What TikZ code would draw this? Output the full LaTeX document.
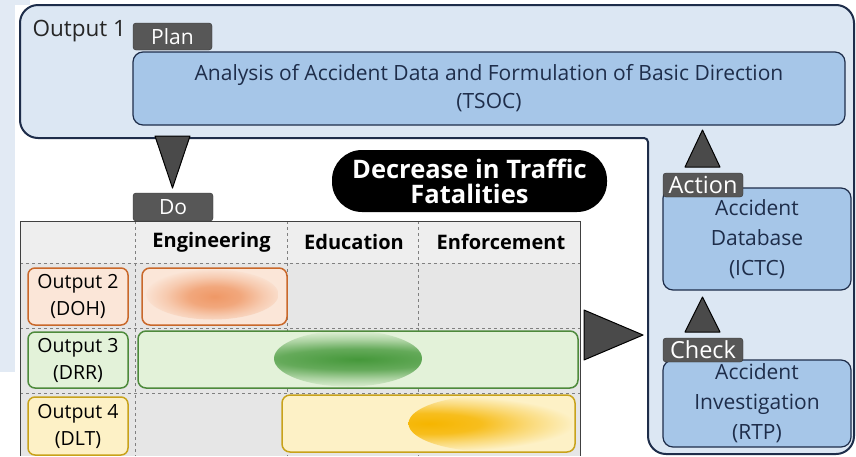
\documentclass[tikz,border=0pt]{standalone}
\usepackage{fontspec}
\setmainfont{Open Sans}
\usetikzlibrary{calc}
\definecolor{navy}{HTML}{1E2D4A}
\definecolor{paleblue}{HTML}{DCE7F3}
\definecolor{stripblue}{HTML}{E2EAF4}
\definecolor{boxblue}{HTML}{A6C6E8}
\definecolor{tabgray}{HTML}{575757}
\definecolor{trigray}{HTML}{4A4A4A}
\definecolor{cellgray}{HTML}{E6E6E6}
\definecolor{headgray}{HTML}{EEEEEE}
\definecolor{orangeln}{HTML}{C9682A}
\definecolor{orangebg}{HTML}{FBE6D8}
\definecolor{orangedk}{HTML}{EF9866}
\definecolor{greenln}{HTML}{4E8A3C}
\definecolor{greenbg}{HTML}{E3F2D9}
\definecolor{greendk}{HTML}{45983A}
\definecolor{goldln}{HTML}{C8A21A}
\definecolor{goldbg}{HTML}{FDF1C6}
\definecolor{golddk}{HTML}{F6B500}
\pgfdeclareradialshading{orangeblob}{\pgfpoint{0bp}{0bp}}{color(0bp)=(orangedk); color(9bp)=(orangedk!80!orangebg); color(17bp)=(orangedk!35!orangebg); color(25bp)=(orangebg); color(50bp)=(orangebg)}
\pgfdeclareradialshading{greenblob}{\pgfpoint{0bp}{0bp}}{color(0bp)=(greendk); color(9bp)=(greendk!80!greenbg); color(17bp)=(greendk!35!greenbg); color(25bp)=(greenbg); color(50bp)=(greenbg)}
\pgfdeclareradialshading{goldblob}{\pgfpoint{0bp}{0bp}}{color(0bp)=(golddk); color(9bp)=(golddk!85!goldbg); color(17bp)=(golddk!40!goldbg); color(25bp)=(goldbg); color(50bp)=(goldbg)}
\tikzset{
  bluebox/.style={draw=navy, line width=1.2pt, fill=boxblue, rounded corners=10pt, align=center, text=navy},
  tab/.style={draw=black!80, fill=tabgray, rounded corners=3pt, text=white, inner sep=0pt},
  tri/.style={draw=black, fill=trigray, line width=1pt, line join=round},
  outlabel/.style={draw=#1ln, fill=#1bg, line width=1.5pt, rounded corners=7pt, align=center, minimum width=100pt, inner sep=0pt, font=\fontsize{19.5}{27}\selectfont},
  bar/.style={draw=#1ln, fill=#1bg, line width=1.5pt, rounded corners=8pt, inner sep=0pt},
  colhead/.style={font=\fontsize{20}{24}\bfseries\selectfont}
}
\begin{document}
\begin{tikzpicture}[x=1pt,y=-1pt]
\useasboundingbox (0,0) rectangle (856,456);
\fill[white] (0,0) rectangle (856,456);
\fill[stripblue] (0,0) rectangle (15,372);
\fill[stripblue] (0,0) rectangle (30,5);
% Output 1 frame
\draw[navy, line width=2pt, fill=paleblue, rounded corners=18pt]
  (20,5) -- (854,5) -- (854,454) -- (648,454) [rounded corners=4pt] -- (648,138) [rounded corners=18pt] -- (20,138) -- cycle;
\node[font=\fontsize{22.5}{25}\selectfont, text=black!85, anchor=west] (out1) at (29,31) {Output 1};
\node[bluebox, minimum width=712pt, minimum height=73pt, font=\fontsize{21}{28}\selectfont] (tsoc) at (489,88.5)
  {Analysis of Accident Data and Formulation of Basic Direction\\(TSOC)};
\node[tab, minimum width=79pt, minimum height=27pt, font=\fontsize{21}{22}\selectfont] (plan) at (172.5,36.5) {Plan};

% table
\fill[cellgray] (20,221) rectangle (580,456);
\fill[headgray] (20,221) rectangle (580,263);
\foreach \x in {135,287,418} \draw[gray, dashed] (\x,221) -- (\x,456);
\foreach \y in {263,328,393} \draw[gray, dashed] (20,\y) -- (580,\y);
\draw[black!75, line width=1pt] (20,456) -- (20,221) -- (580,221) -- (580,456);
\node[colhead] (eng) at (211.5,242) {Engineering};
\node[colhead] (edu) at (354,242) {Education};
\node[colhead] (enf) at (501,242) {Enforcement};

\node[outlabel=orange, minimum height=57pt] (doh) at (78,296.5) {Output 2\\(DOH)};
\node[outlabel=green, minimum height=56pt] (drr) at (78,360) {Output 3\\(DRR)};
\node[outlabel=gold, minimum height=58pt] (dlt) at (78,426) {Output 4\\(DLT)};

\node[bar=orange, minimum width=145pt, minimum height=57pt,
  path picture={\shade[shading=orangeblob] ($(path picture bounding box.center)+(-2,-2)$) ellipse (66 and 25);}]
  (doh-bar) at (214.5,296.5) {};
\node[bar=green, minimum width=440pt, minimum height=57pt,
  path picture={\shade[shading=greenblob] ($(path picture bounding box.center)+(-10,-1)$) ellipse (74 and 28);}]
  (drr-bar) at (358,359.5) {};
\node[bar=gold, minimum width=293pt, minimum height=57pt,
  path picture={\shade[shading=goldblob] ($(path picture bounding box.center)+(62,0)$) ellipse (82 and 28);}]
  (dlt-bar) at (428.5,423.5) {};

\node[tab, minimum width=80pt, minimum height=28pt, font=\fontsize{21}{22}\selectfont] (do) at (173,207) {Do};
\draw[tri] (155,136) -- (190,136) -- (172.5,188) -- cycle;

\node[fill=black, rounded corners=30pt, minimum width=275pt, minimum height=62pt, text=white, align=center,
  font=\fontsize{25.5}{25}\bfseries\selectfont] (goal) at (469.5,181) {Decrease in Traffic\\Fatalities};

% right column
\node[bluebox, minimum width=188pt, minimum height=102pt, font=\fontsize{21}{30}\selectfont] (ictc) at (757,239)
  {Accident\\Database\\(ICTC)};
\node[bluebox, minimum width=188pt, minimum height=87pt, font=\fontsize{21}{30}\selectfont] (rtp) at (757,403.5)
  {Accident\\Investigation\\(RTP)};
\node[tab, minimum width=80pt, minimum height=24pt, font=\fontsize{23.5}{24}\selectfont] (act) at (703,185) {Action};
\node[tab, minimum width=80pt, minimum height=24pt, font=\fontsize{23.5}{24}\selectfont] (chk) at (703,350) {Check};
\draw[tri] (685,167) -- (720,167) -- (702.5,130) -- cycle;
\draw[tri] (685,332) -- (720,332) -- (702.5,297) -- cycle;
\draw[tri] (584,310) -- (584,360) -- (643,335) -- cycle;
\end{tikzpicture}
\end{document}
